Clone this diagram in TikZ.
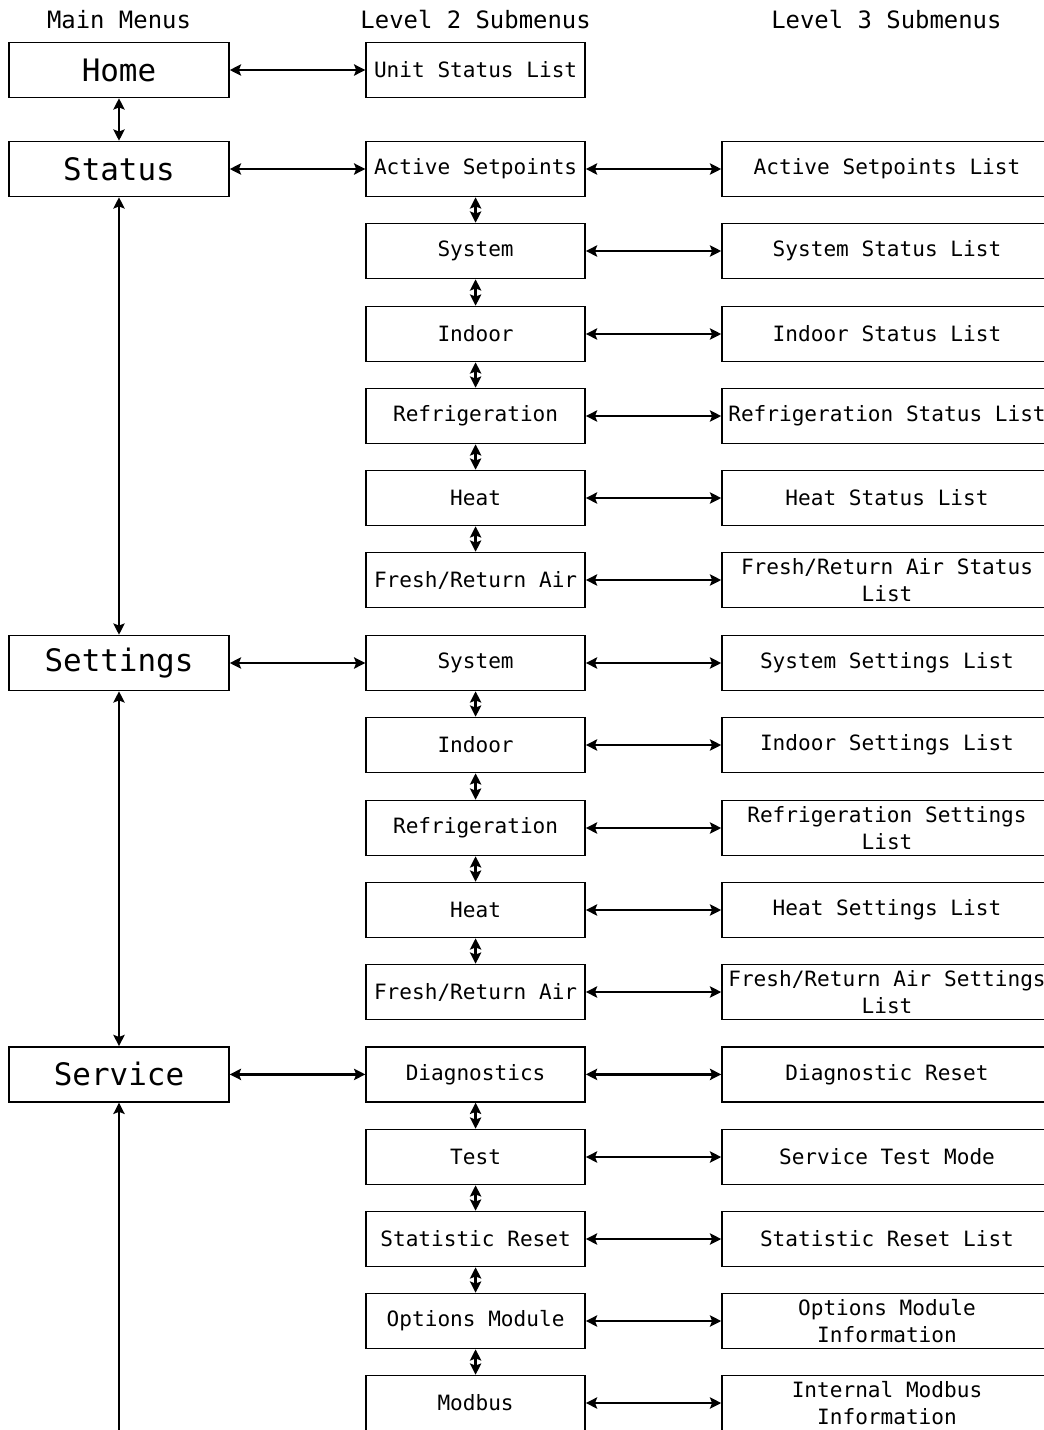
\documentclass[tikz,border=0pt]{standalone}
\usepackage{fontspec}
\setmainfont{DejaVu Sans Mono}
\usetikzlibrary{arrows.meta}

\begin{document}
\begin{tikzpicture}[every node/.style={align=center}]
\tikzset{
  mainbox/.style={draw, line width=1.1pt, minimum width=5.5cm, minimum height=1.375cm, inner sep=0pt, font=\fontsize{22}{26}\selectfont},
  subbox/.style={draw, line width=1.1pt, minimum width=5.475cm, minimum height=1.375cm, inner sep=0pt, font=\fontsize{15}{19.2}\selectfont},
  listbox/.style={subbox, minimum width=8.25cm},
  header/.style={font=\fontsize{17}{20}\selectfont},
  arr/.style={{Stealth[length=8pt,width=8pt,inset=1.5pt]}-{Stealth[length=8pt,width=8pt,inset=1.5pt]}, line width=1.6pt}
}
  \useasboundingbox (0,0) rectangle (26.1,-35.75);
  \clip (0,0) rectangle (26.1,-35.75);

  % column headers
  \node[header] (hmain) at (2.975,-0.5) {Main Menus};
  \node[header] (hlvl2) at (11.89,-0.5) {Level 2 Submenus};
  \node[header] (hlvl3) at (22.16,-0.5) {Level 3 Submenus};

  % main menus
  \node[mainbox] (home) at (2.975,-1.75) {Home};
  \node[mainbox] (status) at (2.975,-4.225) {Status};
  \node[mainbox] (settings) at (2.975,-16.575) {Settings};
  \node[mainbox] (service) at (2.975,-26.86) {Service};
  \coordinate (svcnext) at (2.975,-37.5);

  % level 2
  \node[subbox] (unitstat) at (11.89,-1.75) {Unit Status List};
  \node[subbox] (actset) at (11.89,-4.225) {Active Setpoints};
  \node[subbox] (stsys) at (11.89,-6.275) {System};
  \node[subbox] (stind) at (11.89,-8.35) {Indoor};
  \node[subbox] (stref) at (11.89,-10.4) {Refrigeration};
  \node[subbox] (stheat) at (11.89,-12.45) {Heat};
  \node[subbox] (stair) at (11.89,-14.5) {Fresh/Return Air};
  \node[subbox] (sesys) at (11.89,-16.575) {System};
  \node[subbox] (seind) at (11.89,-18.625) {Indoor};
  \node[subbox] (seref) at (11.89,-20.7) {Refrigeration};
  \node[subbox] (seheat) at (11.89,-22.75) {Heat};
  \node[subbox] (seair) at (11.89,-24.8) {Fresh/Return Air};
  \node[subbox] (diag) at (11.89,-26.86) {Diagnostics};
  \node[subbox] (test) at (11.89,-28.925) {Test};
  \node[subbox] (statres) at (11.89,-30.975) {Statistic Reset};
  \node[subbox] (optmod) at (11.89,-33.025) {Options Module};
  \node[subbox] (modbus) at (11.89,-35.075) {Modbus};

  % level 3
  \node[listbox] (actsetl) at (22.175,-4.225) {Active Setpoints List};
  \node[listbox] (stsysl) at (22.175,-6.275) {System Status List};
  \node[listbox] (stindl) at (22.175,-8.35) {Indoor Status List};
  \node[listbox] (strefl) at (22.175,-10.4) {Refrigeration Status List};
  \node[listbox] (stheatl) at (22.175,-12.45) {Heat Status List};
  \node[listbox] (stairl) at (22.175,-14.5) {Fresh/Return Air Status\\List};
  \node[listbox] (sesysl) at (22.175,-16.575) {System Settings List};
  \node[listbox] (seindl) at (22.175,-18.625) {Indoor Settings List};
  \node[listbox] (serefl) at (22.175,-20.7) {Refrigeration Settings\\List};
  \node[listbox] (seheatl) at (22.175,-22.75) {Heat Settings List};
  \node[listbox] (seairl) at (22.175,-24.8) {Fresh/Return Air Settings\\List};
  \node[listbox] (diagl) at (22.175,-26.86) {Diagnostic Reset};
  \node[listbox] (testl) at (22.175,-28.925) {Service Test Mode};
  \node[listbox] (statresl) at (22.175,-30.975) {Statistic Reset List};
  \node[listbox] (optmodl) at (22.175,-33.025) {Options Module\\Information};
  \node[listbox] (modbusl) at (22.175,-35.075) {Internal Modbus\\Information};

  % main column
  \draw[arr] (home) -- (status);
  \draw[arr] (status) -- (settings);
  \draw[arr] (settings) -- (service);
  \draw[arr] (service) -- (svcnext);

  % main to level 2
  \draw[arr] (home) -- (unitstat);
  \draw[arr] (status) -- (actset);
  \draw[arr] (settings) -- (sesys);
  \draw[arr] (service) -- (diag);

  % level 2 chains
  \draw[arr] (actset) -- (stsys);
  \draw[arr] (stsys) -- (stind);
  \draw[arr] (stind) -- (stref);
  \draw[arr] (stref) -- (stheat);
  \draw[arr] (stheat) -- (stair);
  \draw[arr] (sesys) -- (seind);
  \draw[arr] (seind) -- (seref);
  \draw[arr] (seref) -- (seheat);
  \draw[arr] (seheat) -- (seair);
  \draw[arr] (diag) -- (test);
  \draw[arr] (test) -- (statres);
  \draw[arr] (statres) -- (optmod);
  \draw[arr] (optmod) -- (modbus);

  % level 2 to level 3
  \draw[arr] (actset) -- (actsetl);
  \draw[arr] (stsys) -- (stsysl);
  \draw[arr] (stind) -- (stindl);
  \draw[arr] (stref) -- (strefl);
  \draw[arr] (stheat) -- (stheatl);
  \draw[arr] (stair) -- (stairl);
  \draw[arr] (sesys) -- (sesysl);
  \draw[arr] (seind) -- (seindl);
  \draw[arr] (seref) -- (serefl);
  \draw[arr] (seheat) -- (seheatl);
  \draw[arr] (seair) -- (seairl);
  \draw[arr] (diag) -- (diagl);
  \draw[arr] (test) -- (testl);
  \draw[arr] (statres) -- (statresl);
  \draw[arr] (optmod) -- (optmodl);
  \draw[arr] (modbus) -- (modbusl);
\end{tikzpicture}
\end{document}
